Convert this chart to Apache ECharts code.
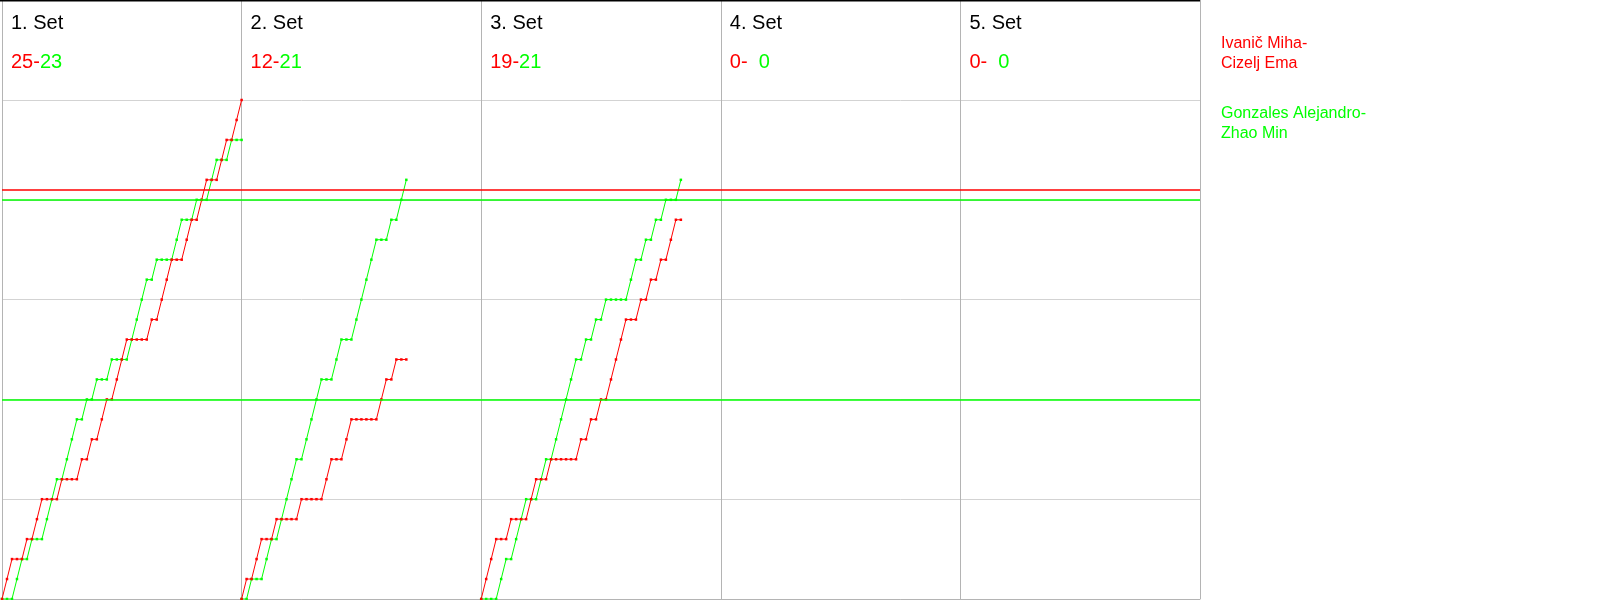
<!DOCTYPE html>
<html>
<head>
<meta charset="utf-8">
<script src="https://cdn.jsdelivr.net/npm/echarts@6/dist/echarts.min.js"></script>
<style>
html,body{margin:0;padding:0;background:#fff;}
#chart{width:1600px;height:600px;}
</style>
</head>
<body>
<div id="chart"></div>
<script>
// ---- data ----
const setLabels = ['1. Set', '2. Set', '3. Set', '4. Set', '5. Set'];
const redSetScores = [25, 12, 19, 0, 0];
const greenSetScores = [23, 21, 21, 0, 0];
const redTeam = ['Ivanič Miha-', 'Cizelj Ema'];
const greenTeam = ['Gonzales Alejandro-', 'Zhao Min'];

// running score after each rally (rally 0 = start)
const red1 = [0,1,2,2,2,3,3,4,5,5,5,5,6,6,6,6,7,7,8,8,9,10,10,11,12,13,13,13,13,13,14,14,15,16,17,17,17,18,19,19,20,21,21,21,22,23,23,24,25];
const green1 = [0,0,0,1,2,2,3,3,3,4,5,6,6,7,8,9,9,10,10,11,11,11,12,12,12,12,13,14,15,16,16,17,17,17,17,18,19,19,19,20,20,20,21,22,22,22,23,23,23];
const red2 = [0,1,1,2,3,3,3,4,4,4,4,4,5,5,5,5,5,6,7,7,7,8,9,9,9,9,9,9,10,11,11,12,12,12];
const green2 = [0,0,1,1,1,2,3,3,4,5,6,7,7,8,9,10,11,11,11,12,13,13,13,14,15,16,17,18,18,18,19,19,20,21];
const red3 = [0,1,2,3,3,3,4,4,4,4,5,6,6,6,7,7,7,7,7,7,8,8,9,9,10,10,11,12,13,14,14,14,15,15,16,16,17,17,18,19,19];
const green3 = [0,0,0,0,1,2,2,3,4,5,5,5,6,7,7,8,9,10,11,12,12,13,13,14,14,15,15,15,15,15,16,17,17,18,18,19,19,20,20,20,21];
const red4 = [];
const green4 = [];
const red5 = [];
const green5 = [];

const redRefLines = [20.5];
const greenRefLines = [20, 10];

// ---- chart ----
const RED = '#ff0000';
const GREEN = '#00ff00';
const FONT = '"Liberation Sans", Arial, sans-serif';
const SLOT = 48; // rally slots per set panel
const NSETS = setLabels.length;

const redSets = [red1, red2, red3, red4, red5];
const greenSets = [green1, green2, green3, green4, green5];

const GRID_L = 2, GRID_R = 1200;
const panelW = (GRID_R - GRID_L) / NSETS;

const chart = echarts.init(document.getElementById('chart'), null, {renderer: 'canvas'});

function mkSeries(arr, k, color) {
  return {
    type: 'line',
    xAxisIndex: 0, yAxisIndex: 0,
    data: arr.map((v, i) => [k * SLOT + i, v]),
    symbol: 'rect',
    symbolSize: 2.5,
    showAllSymbol: true,
    itemStyle: {color: color},
    lineStyle: {color: color, width: 1},
    animation: false,
    silent: true,
    z: 3
  };
}
function mkRef(values, color) {
  return {
    type: 'line', xAxisIndex: 0, yAxisIndex: 0, data: [], silent: true, z: 5,
    markLine: {
      silent: true, symbol: 'none', label: {show: false},
      lineStyle: {color: color, width: 1.6, type: 'solid', opacity: 1},
      emphasis: {disabled: true},
      data: values.map(v => ({yAxis: v})),
      animation: false
    }
  };
}

const series = [];
for (let k = 0; k < NSETS; k++) {
  series.push(mkSeries(greenSets[k], k, GREEN));
  series.push(mkSeries(redSets[k], k, RED));
}
series.push(mkRef(greenRefLines, GREEN));
series.push(mkRef(redRefLines, RED));
// header grid series (empty) so its axes render
series.push({type: 'line', xAxisIndex: 1, yAxisIndex: 1, data: [], silent: true});

const graphics = [
  {type: 'rect', shape: {x: 0, y: 0, width: GRID_R, height: 1.5}, style: {fill: '#000'}, z: 10}
];
for (let k = 0; k < NSETS; k++) {
  const x0 = GRID_L + k * panelW + 9;
  graphics.push({
    type: 'text', x: x0, y: 23,
    style: {text: setLabels[k], font: '20px ' + FONT, fill: '#000', textVerticalAlign: 'middle'},
    z: 10
  });
  const g = String(greenSetScores[k]);
  const gTxt = g.length < 2 ? '  ' + g : g;
  graphics.push({
    type: 'text', x: x0, y: 62,
    style: {
      text: '{r|' + redSetScores[k] + '-}{g|' + gTxt + '}',
      font: '20px ' + FONT,
      textVerticalAlign: 'middle',
      rich: {
        r: {fill: RED, font: '20px ' + FONT},
        g: {fill: GREEN, font: '20px ' + FONT}
      }
    },
    z: 10
  });
}
graphics.push({
  type: 'text', x: 1221, y: 54,
  style: {text: redTeam.join('\n'), font: '16px ' + FONT, fill: RED, lineHeight: 20, textVerticalAlign: 'middle'},
  z: 10
});
graphics.push({
  type: 'text', x: 1221, y: 124,
  style: {text: greenTeam.join('\n'), font: '16px ' + FONT, fill: GREEN, lineHeight: 20, textVerticalAlign: 'middle'},
  z: 10
});

const option = {
  animation: false,
  backgroundColor: '#ffffff',
  grid: [
    {left: GRID_L, top: 100, width: GRID_R - GRID_L, height: 499, containLabel: false},
    {left: GRID_L, top: 0, width: GRID_R - GRID_L, height: 100, containLabel: false}
  ],
  xAxis: [
    {
      type: 'value', gridIndex: 0, min: 0, max: SLOT * NSETS, interval: SLOT,
      axisLabel: {show: false}, axisTick: {show: false},
      axisLine: {show: true, lineStyle: {color: '#b4b4b4', width: 1}},
      splitLine: {show: true, lineStyle: {color: '#b4b4b4', width: 1}}
    },
    {
      type: 'value', gridIndex: 1, min: 0, max: SLOT * NSETS, interval: SLOT,
      axisLabel: {show: false}, axisTick: {show: false}, axisLine: {show: false},
      splitLine: {show: true, lineStyle: {color: '#b4b4b4', width: 1}}
    }
  ],
  yAxis: [
    {
      type: 'value', gridIndex: 0, min: 0, max: 25, interval: 5,
      axisLabel: {show: false}, axisTick: {show: false},
      axisLine: {show: true, lineStyle: {color: '#b4b4b4', width: 1}},
      splitLine: {show: true, lineStyle: {color: '#d3d3d3', width: 1}}
    },
    {
      type: 'value', gridIndex: 1, min: 0, max: 1, interval: 1,
      axisLabel: {show: false}, axisTick: {show: false},
      axisLine: {show: false}, splitLine: {show: false}
    }
  ],
  series: series,
  graphic: graphics
};
chart.setOption(option);
</script>
</body>
</html>
